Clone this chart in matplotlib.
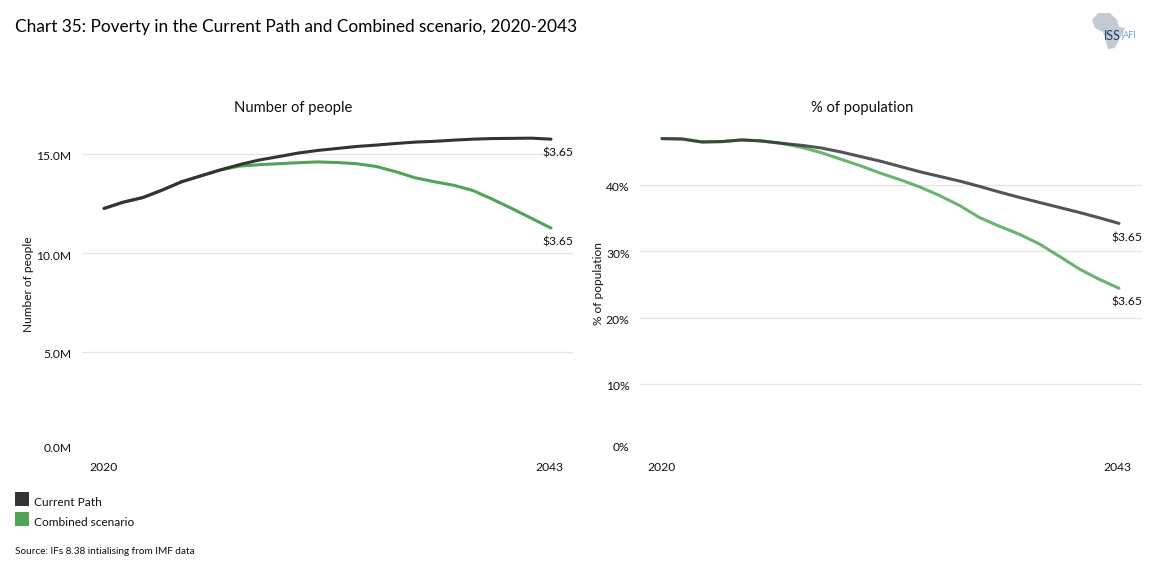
#!/usr/bin/env python3
"""Chart 35: poverty in the Current Path and Combined scenario, 2020-2043."""

import numpy as np
import matplotlib
matplotlib.use('Agg')
import matplotlib.pyplot as plt
from matplotlib.patches import Polygon, Rectangle
from matplotlib.transforms import ScaledTranslation

W, H = 1154, 583

years = list(range(2020, 2044))

people_current = [12.25, 12.57, 12.80, 13.18, 13.60, 13.90, 14.20, 14.47, 14.70, 14.87, 15.05, 15.18,
                  15.28, 15.38, 15.45, 15.53, 15.60, 15.64, 15.70, 15.75, 15.78, 15.79, 15.80, 15.75]
people_combined = [12.25, 12.57, 12.80, 13.18, 13.60, 13.90, 14.20, 14.39, 14.46, 14.51, 14.56, 14.60,
                   14.57, 14.51, 14.37, 14.11, 13.80, 13.60, 13.42, 13.15, 12.71, 12.24, 11.75, 11.26]

pct_current = [46.9, 46.85, 46.4, 46.45, 46.7, 46.55, 46.2, 45.9, 45.5, 44.9, 44.2, 43.5,
               42.7, 41.9, 41.2, 40.5, 39.7, 38.85, 38.05, 37.3, 36.55, 35.8, 35.0, 34.15]
pct_combined = [46.9, 46.85, 46.4, 46.45, 46.7, 46.55, 46.2, 45.6, 44.8, 43.8, 42.8, 41.7,
                40.7, 39.6, 38.3, 36.8, 35.0, 33.7, 32.5, 31.05, 29.2, 27.3, 25.75, 24.4]

people_ticks = [0, 5, 10, 15]
people_ticklabels = ['0.0M', '5.0M', '10.0M', '15.0M']
pct_ticks = [0, 10, 20, 30, 40]
pct_ticklabels = ['0%', '10%', '20%', '30%', '40%']

DARK = '#333333'
GREEN = '#4fa555'
GRID = '#e4e4e4'
TEXT = '#111111'

plt.rcParams['font.family'] = ['Lato', 'DejaVu Sans']


def px_axes(fig, left, right, top, bottom):
    ax = fig.add_axes([left / W, 1 - bottom / H, (right - left) / W, (bottom - top) / H])
    for s in ax.spines.values():
        s.set_visible(False)
    ax.tick_params(length=0, labelsize=8.7, colors=TEXT)
    return ax


def draw_panel(fig, ax, current, combined, ticks, ticklabels, alpha, label_dx):
    ax.set_axisbelow(True)
    ax.yaxis.grid(True, color=GRID, lw=0.9)
    ax.plot(years, combined, color=GREEN, lw=2.2, alpha=alpha, solid_capstyle='round')
    ax.plot(years, current, color=DARK, lw=2.2, alpha=alpha, solid_capstyle='round')
    ax.set_xticks([2020, 2043])
    ax.set_xticklabels(['2020', '2043'])
    ax.set_yticks(ticks)
    ax.set_yticklabels(ticklabels)
    ax.get_ygridlines()[0].set_visible(False)
    ax.tick_params(axis='x', pad=8)
    ax.tick_params(axis='y', pad=7.5)
    # labels hang a little under their gridlines, the zero one sits above the baseline
    for v, lab in zip(ticks, ax.get_yticklabels()):
        dy = 4 if v == 0 else -2
        lab.set_transform(lab.get_transform() + ScaledTranslation(0, dy / 100, fig.dpi_scale_trans))
    last = ax.get_xticklabels()[-1]
    last.set_transform(last.get_transform() + ScaledTranslation(-1.5 / 100, 0, fig.dpi_scale_trans))
    for vals in (current, combined):
        ax.annotate('\\$3.65', (years[-1], vals[-1]), xytext=(label_dx, -10.2),
                    textcoords='offset points', ha='center', va='center', fontsize=8.7, color=TEXT)


fig = plt.figure(figsize=(W / 100, H / 100), dpi=100, facecolor='white')

ax1 = px_axes(fig, 82, 573, 120, 451)
ax1.set_xlim(2020 - 22 / 19.435, 2043 + 22 / 19.435)
ax1.set_ylim(0, 331 / 19.8)
draw_panel(fig, ax1, people_current, people_combined, people_ticks, people_ticklabels, 1.0, 4.7)

ax2 = px_axes(fig, 640, 1142, 120, 450.5)
ax2.set_xlim(2020 - 22 / 19.87, 2043 + 23 / 19.87)
ax2.set_ylim(0, 330.5 / 6.65)
draw_panel(fig, ax2, pct_current, pct_combined, pct_ticks, pct_ticklabels, 0.84, 5.4)

fig.text(293 / W, 1 - 107.5 / H, 'Number of people', ha='center', va='center', fontsize=10.6, color=TEXT)
fig.text(862 / W, 1 - 107.5 / H, '% of population', ha='center', va='center', fontsize=10.6, color=TEXT)
fig.text(29 / W, 1 - 284 / H, 'Number of people', rotation=90, ha='center', va='center',
         fontsize=8.6, color=TEXT)
fig.text(599 / W, 1 - 284 / H, '% of population', rotation=90, ha='center', va='center',
         fontsize=8.6, color=TEXT)

fig.text(15 / W, 1 - 27 / H, 'Chart 35: Poverty in the Current Path and Combined scenario, 2020-2043',
         ha='left', va='center', fontsize=12.43, color='#000000')

# legend
for top, col, lab in [(492, DARK, 'Current Path'), (512, GREEN, 'Combined scenario')]:
    fig.add_artist(Rectangle((15 / W, 1 - (top + 14) / H), 14 / W, 14 / H, transform=fig.transFigure,
                             fc=col, ec='none'))
    fig.text(34 / W, 1 - (top + 10) / H, lab, ha='left', va='center', fontsize=8.6, color=TEXT)

fig.text(15 / W, 1 - 551 / H, 'Source: IFs 8.38 intialising from IMF data', ha='left', va='center',
         fontsize=7.2, color=TEXT)

# logo: rough Africa outline plus the ISS | AFI wordmark
africa = np.array([[1092, 20], [1098, 13], [1110, 13], [1117, 20], [1119, 27], [1125, 28], [1120, 38],
                   [1115, 48], [1108, 49], [1105, 38], [1103, 32], [1095, 28]], dtype=float)
africa[:, 0] /= W
africa[:, 1] = 1 - africa[:, 1] / H
fig.add_artist(Polygon(africa, closed=True, transform=fig.transFigure, fc='#c3cad3', ec='none'))
fig.text(1104 / W, 1 - 36 / H, 'ISS', ha='left', va='center', fontsize=9, color='#1d3c63')
fig.text(1120.5 / W, 1 - 36 / H, '|', ha='left', va='center', fontsize=7, color='#6aa0c8')
fig.text(1123 / W, 1 - 36 / H, 'AFI', ha='left', va='center', fontsize=6.5, color='#6aa0c8')

fig.savefig('out.png', dpi=100, facecolor='white')
